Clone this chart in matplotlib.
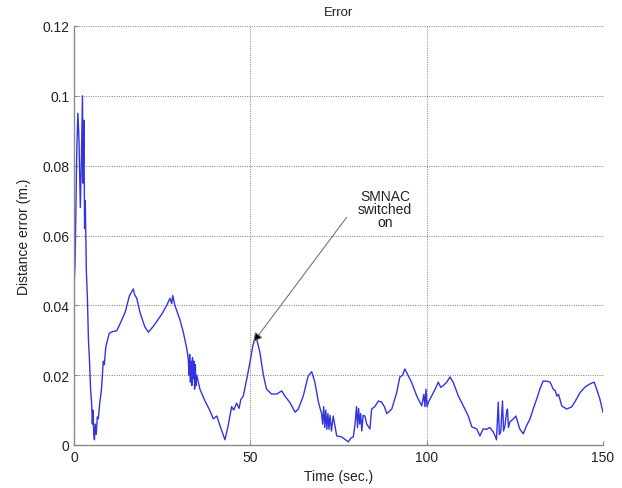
import matplotlib
matplotlib.use("Agg")
import matplotlib.pyplot as plt

plt.rcParams['font.family'] = ['Liberation Sans', 'DejaVu Sans']

time_s = [0, 0.3, 0.8, 1.1, 1.4, 1.8, 2.1, 2.4, 2.6, 2.8, 3.0, 3.2, 3.5, 3.8, 4.1, 4.4, 4.7,
          5.0, 5.2, 5.4, 5.6, 5.8, 6.0, 6.3, 6.6, 6.9, 7.3, 7.8, 8.3, 8.6, 9.0, 10.0, 11.0,
          12.1, 13.0, 14.5, 15.7, 16.4, 16.8, 17.2, 17.8, 18.7, 20.1, 21.1, 22.5, 23.9, 24.9,
          26.3, 27.2, 27.7, 28.0, 28.6, 30.0, 31.0, 32.0, 32.4,
          32.6, 32.8, 33.0, 33.2, 33.4, 33.6, 33.8, 34.0, 34.2, 34.4, 34.6, 34.8,
          35.7, 37.1, 38.6, 39.5, 40.5, 41.4, 42.8, 43.7, 44.7, 45.3, 46.1, 46.8, 47.3, 48.0,
          49.0, 49.9, 50.7, 51.3, 51.8, 52.7, 53.7, 54.6, 56.0, 57.5, 58.9, 59.8, 61.2, 62.7,
          63.6, 65.0, 66.4, 67.4, 68.3, 69.3,
          70.2, 70.5, 70.8, 71.1, 71.4, 71.7, 72.0, 72.3, 72.6, 73.0, 73.5,
          74.5, 75.9, 77.0, 77.8, 78.5, 79.2, 79.7,
          80.1, 80.4, 80.7, 81.0, 81.3, 81.6, 82.0, 82.5, 83.0,
          83.9, 84.4, 85.3, 86.3, 87.2, 88.0, 88.7, 90.1, 91.5, 92.4, 93.2, 93.8, 94.8, 95.7,
          97.2, 98.6, 99.2, 99.5, 99.8, 100.1, 100.5, 101.4, 102.4, 103.3, 104.0, 104.7,
          105.7, 106.6, 107.5, 109.0, 110.4, 111.8, 112.8, 114.2, 115.1, 116.0, 117.0, 117.9,
          118.9, 119.4, 119.8, 120.3, 120.6, 121.0, 121.5, 121.8, 122.2, 122.6, 122.9, 123.2,
          123.6, 124.6, 125.3, 126.4, 127.4, 128.3, 129.3, 130.2, 131.2, 132.1, 133.0, 134.0,
          135.0, 135.9, 136.5, 136.9, 137.4, 138.3, 139.7, 141.1, 142.0, 143.5, 144.9, 146.3,
          147.5, 148.2, 149.1, 150.0]

error_m = [0.045, 0.052, 0.085, 0.095, 0.088, 0.068, 0.082, 0.100, 0.075, 0.093, 0.062, 0.070,
           0.050, 0.042, 0.030, 0.024, 0.016, 0.012, 0.006, 0.010, 0.003, 0.0015, 0.006, 0.003,
           0.008, 0.0075, 0.012, 0.016, 0.024, 0.023, 0.028, 0.032, 0.0325, 0.0327, 0.0346,
           0.038, 0.0427, 0.044, 0.0447, 0.043, 0.042, 0.038, 0.0338, 0.0323, 0.034, 0.036,
           0.0375, 0.040, 0.042, 0.0405, 0.0428, 0.040, 0.036, 0.0323, 0.0275, 0.0246,
           0.020, 0.026, 0.018, 0.024, 0.017, 0.025, 0.019, 0.024, 0.016, 0.023, 0.017, 0.020,
           0.016, 0.0127, 0.0097, 0.0075, 0.0083, 0.0055, 0.0015, 0.0055, 0.011, 0.010, 0.012,
           0.0105, 0.013, 0.014, 0.019, 0.0237, 0.0284, 0.0305, 0.0303, 0.0266, 0.020, 0.016,
           0.0146, 0.0146, 0.0155, 0.014, 0.0122, 0.0094, 0.0103, 0.014, 0.0198, 0.021, 0.018,
           0.0123,
           0.009, 0.006, 0.011, 0.005, 0.010, 0.0045, 0.009, 0.0045, 0.0085, 0.004, 0.0083,
           0.0026, 0.0023, 0.0015, 0.0009, 0.002, 0.0023, 0.006,
           0.011, 0.005, 0.0105, 0.006, 0.009, 0.004, 0.0085, 0.0083, 0.006,
           0.0046, 0.0103, 0.011, 0.0126, 0.0123, 0.011, 0.009, 0.0103, 0.015, 0.0195, 0.020,
           0.0218, 0.0198, 0.018, 0.014, 0.0112, 0.0145, 0.011, 0.016, 0.011, 0.0123, 0.014,
           0.016, 0.018, 0.0165, 0.017, 0.018, 0.0195, 0.018, 0.014, 0.0112, 0.0083, 0.0052,
           0.0046, 0.0026, 0.0046, 0.0045, 0.005, 0.0037, 0.0026, 0.0015, 0.0123, 0.003,
           0.0037, 0.0126, 0.004, 0.0055, 0.009, 0.0103, 0.005, 0.0066, 0.0075, 0.0083,
           0.0046, 0.0032, 0.0055, 0.0075, 0.0103, 0.0132, 0.016, 0.0183, 0.0183, 0.018,
           0.016, 0.0155, 0.014, 0.0145, 0.0112, 0.0103, 0.0109, 0.0123, 0.015, 0.0166,
           0.0175, 0.018, 0.016, 0.0132, 0.0094]

x_ticks = [0, 50, 100, 150]
y_ticks = [0, 0.02, 0.04, 0.06, 0.08, 0.1, 0.12]
y_tick_labels = ['0', '0.02', '0.04', '0.06', '0.08', '0.1', '0.12']

fig = plt.figure(figsize=(6.22, 4.89), dpi=100)
ax = fig.add_axes([74/622, 1-446/489, (603-74)/622, (446-27)/489])

ax.plot(time_s, error_m, color='#3434de', linewidth=1.0)

ax.set_xlim(0, 150)
ax.set_ylim(0, 0.12)
ax.set_xticks(x_ticks)
ax.set_yticks(y_ticks)
ax.set_yticklabels(y_tick_labels)
ax.grid(True, linestyle=(0, (1.2, 1.6)), color='#6e6e6e', linewidth=0.6)

for s in ['top', 'right']:
    ax.spines[s].set_visible(False)
for s in ['left', 'bottom']:
    ax.spines[s].set_color('#8a8a8a')
    ax.spines[s].set_linewidth(1.0)

ax.tick_params(direction='in', length=3, color='#8a8a8a', labelsize=10, labelcolor='#222222')

ax.set_title('Error', fontsize=9.5, color='#222222', pad=8)
ax.set_xlabel('Time (sec.)', fontsize=10, color='#222222', labelpad=4)
ax.set_ylabel('Distance error (m.)', fontsize=10, color='#222222', labelpad=8)

ax.text(88.2, 0.0675, 'SMNAC\nswitched\non', ha='center', va='center', fontsize=10,
        color='#222222', linespacing=0.9)
ax.annotate('', xy=(50.8, 0.0294), xytext=(77.3, 0.0652),
            arrowprops=dict(arrowstyle='-|>', color='#777777', lw=0.8,
                            mutation_scale=14, shrinkA=0, shrinkB=0,
                            fc='black', ec='#777777'))

fig.savefig('out.png', dpi=100)
